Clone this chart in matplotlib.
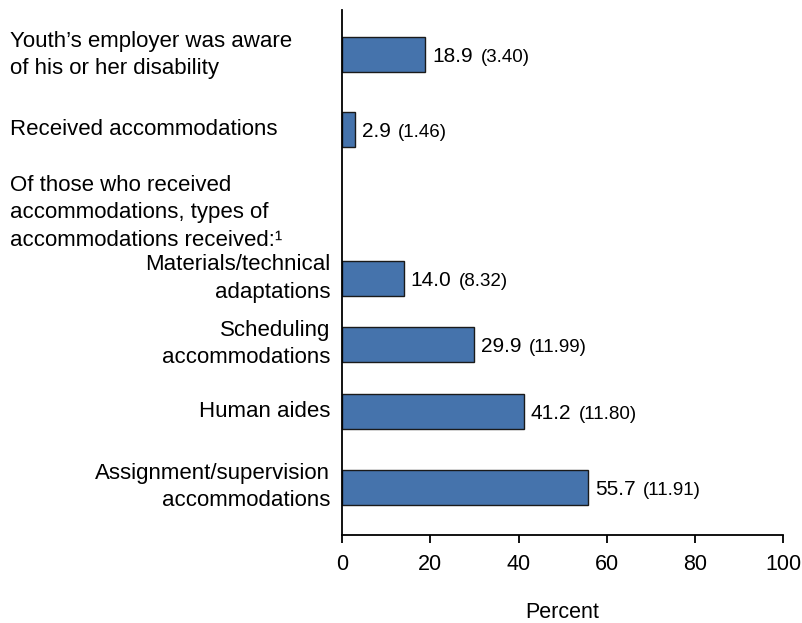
import matplotlib
matplotlib.use("Agg")
import matplotlib.pyplot as plt
from matplotlib.transforms import blended_transform_factory

plt.rcParams["font.family"] = ["Liberation Sans", "DejaVu Sans"]

# ── Data ──────────────────────────────────────────────────────────────────────
categories = [
    "Youth\u2019s employer was aware\nof his or her disability",
    "Received accommodations",
    "Materials/technical\nadaptations",
    "Scheduling\naccommodations",
    "Human aides",
    "Assignment/supervision\naccommodations",
]
values = [18.9, 2.9, 14.0, 29.9, 41.2, 55.7]
std_errors = ["3.40", "1.46", "8.32", "11.99", "11.80", "11.91"]
header = "Of those who received\naccommodations, types of\naccommodations received:\u00b9"
xticks = [0, 20, 40, 60, 80, 100]

# ── Layout ────────────────────────────────────────────────────────────────────
ypos = [0, 1, 3, 3.88, 4.78, 5.8]
header_y = 2.12
left_aligned = [True, True, False, False, False, False]
C_BAR = "#4573ac"
DPI = 100

fig = plt.figure(figsize=(8.03, 6.23), dpi=DPI)
ax = fig.add_axes([0.4259, 0.1413, 0.5496, 0.8427])

ax.barh(ypos, values, height=0.47, color=C_BAR, edgecolor="#1a1a1a", linewidth=1.0)
ax.set_xlim(0, 100)
ax.set_ylim(6.44, -0.6)

ax.set_xticks(xticks)
ax.tick_params(axis="x", labelsize=15.5, length=6, width=1.3, direction="out", pad=8)
ax.set_yticks([])
for s in ["top", "right"]:
    ax.spines[s].set_visible(False)
for s in ["left", "bottom"]:
    ax.spines[s].set_linewidth(1.3)
ax.set_xlabel("Percent", fontsize=15.5, labelpad=19)

trans = blended_transform_factory(ax.transAxes, ax.transData)
for y, lab, la in zip(ypos, categories, left_aligned):
    if la:
        ax.text(-0.752, y, lab, transform=trans, ha="left", va="center",
                fontsize=16, linespacing=1.4)
    else:
        ax.text(-0.027, y, lab, transform=trans, ha="right", va="center",
                fontsize=16, multialignment="right", linespacing=1.4)
ax.text(-0.752, header_y, header, transform=trans, ha="left", va="center",
        fontsize=16, linespacing=1.4)

# value labels with standard errors in smaller type
renderer = fig.canvas.get_renderer()
for y, v, se in zip(ypos, values, std_errors):
    t = ax.annotate(f"{v:.1f}", xy=(v, y), xytext=(5, -5.5), textcoords="offset points",
                    ha="left", va="baseline", fontsize=15)
    w_pt = t.get_window_extent(renderer).width * 72 / DPI
    ax.annotate(f"({se})", xy=(v, y), xytext=(5 + w_pt + 5.5, -5.5),
                textcoords="offset points", ha="left", va="baseline", fontsize=13.5)

fig.savefig("out.png", dpi=DPI, facecolor="white")
